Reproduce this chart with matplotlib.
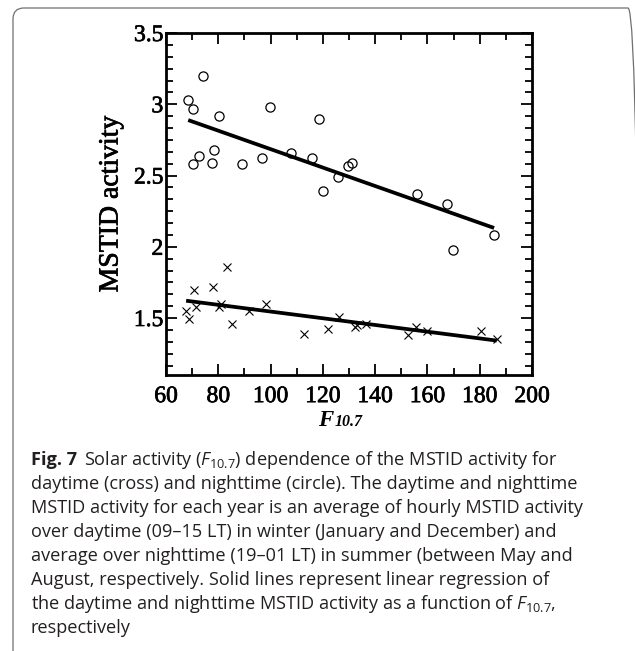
# MSTID activity vs F10.7 (daytime crosses, nighttime circles) with regression lines

import numpy as np
import matplotlib
matplotlib.use("Agg")
import matplotlib.pyplot as plt
import matplotlib.patheffects as pe
from matplotlib.ticker import AutoMinorLocator, FuncFormatter
from matplotlib.patches import FancyBboxPatch

# nighttime (summer) - circles
f107_night = [68.5, 70.2, 70.4, 72.6, 74.3, 77.6, 78.5, 80.2, 89.1, 96.7, 99.7,
              107.9, 116.0, 118.6, 119.9, 125.8, 129.5, 131.3, 156.1, 167.5,
              169.9, 185.5]
night_activity = [3.03, 2.58, 2.97, 2.64, 3.20, 2.59, 2.68, 2.92, 2.58, 2.62,
                  2.98, 2.66, 2.62, 2.90, 2.39, 2.49, 2.57, 2.59, 2.37, 2.30,
                  1.98, 2.08]

# daytime (winter) - crosses
f107_day = [67.7, 68.9, 70.9, 71.5, 77.9, 80.1, 81.2, 83.2, 85.1, 91.6, 98.4,
            112.7, 121.8, 126.0, 132.4, 133.2, 136.4, 152.7, 155.7, 159.9,
            180.5, 186.5]
day_activity = [1.55, 1.49, 1.70, 1.58, 1.72, 1.58, 1.60, 1.86, 1.46, 1.55,
                1.60, 1.39, 1.42, 1.51, 1.44, 1.45, 1.46, 1.38, 1.44, 1.41,
                1.41, 1.35]

x_ticks = [60, 80, 100, 120, 140, 160, 180, 200]
y_ticks = [1.5, 2, 2.5, 3, 3.5]

caption_first = "Solar activity ($F_{\\mathrm{10.7}}$) dependence of the MSTID activity for"
caption_lines = [
    "daytime (cross) and nighttime (circle). The daytime and nighttime",
    "MSTID activity for each year is an average of hourly MSTID activity",
    "over daytime (09\u201315 LT) in winter (January and December) and",
    "average over nighttime (19\u201301 LT) in summer (between May and",
    "August, respectively. Solid lines represent linear regression of",
    "the daytime and nighttime MSTID activity as a function of $F_{\\mathrm{10.7}}$,",
    "respectively",
]

plt.rcParams['mathtext.fontset'] = 'custom'
plt.rcParams['mathtext.rm'] = 'Open Sans'
plt.rcParams['mathtext.it'] = 'Open Sans:italic'

W, H = 635, 651
fig = plt.figure(figsize=(W / 100, H / 100), dpi=100)


def px(x, y):
    # pixel position from the top-left corner -> inches for dpi_scale_trans
    return x / 100, (H - y) / 100


# outer frame (rounded box, cut off at the right and bottom)
frame = FancyBboxPatch(px(13, 665), (639 - 13) / 100, (665 - 8) / 100,
                       boxstyle="round,pad=0,rounding_size=0.11",
                       transform=fig.dpi_scale_trans, fill=False,
                       edgecolor="#707070", linewidth=0.9)
fig.patches.append(frame)

ax = fig.add_axes([166 / W, 1 - 375 / H, (532 - 166) / W, (375 - 33) / H])

ax.plot(f107_night, night_activity, 'o', ms=6.6, mfc='none', mec='black', mew=0.9)
ax.plot(f107_day, day_activity, 'x', ms=6, color='black', mew=0.8)

for fx, fy in [(f107_night, night_activity), (f107_day, day_activity)]:
    slope, icept = np.polyfit(fx, fy, 1)
    xs = np.array([min(fx), max(fx)])
    ax.plot(xs, slope * xs + icept, color='black', lw=2.7, solid_capstyle='butt')

ax.set_xlim(60, 200)
ax.set_ylim(1.1, 3.5)
ax.set_xticks(x_ticks)
ax.set_yticks(y_ticks)
ax.xaxis.set_minor_locator(AutoMinorLocator(2))
ax.yaxis.set_minor_locator(AutoMinorLocator(6))
ax.yaxis.set_major_formatter(FuncFormatter(lambda v, p: "%g" % v))

for s in ax.spines.values():
    s.set_linewidth(2.0)
ax.tick_params(which='both', direction='in', top=True, right=True, width=1.3)
ax.tick_params(which='major', length=8)
ax.tick_params(which='minor', length=5)
ax.tick_params(axis='x', pad=8)
ax.tick_params(axis='y', pad=2)
heavy = [pe.withStroke(linewidth=0.5, foreground='black')]
for lab in ax.get_xticklabels() + ax.get_yticklabels():
    lab.set_fontfamily('Liberation Serif')
    lab.set_fontsize(17)
    lab.set_path_effects(heavy)

ax.set_ylabel("MSTID activity", fontfamily='Liberation Serif', fontsize=20)
ax.yaxis.set_label_coords((111 - 166) / 366, 0.5)
ax.yaxis.label.set_va('center')
ax.yaxis.label.set_path_effects(heavy)

# x label: F with subscript 10.7, serif bold italic
f_txt = fig.text(*px(318, 426), "F", transform=fig.dpi_scale_trans,
                 fontfamily='Liberation Serif', fontweight='bold', fontstyle='italic',
                 fontsize=16.5, va='baseline', ha='left')
ax.annotate("10.7", xy=(1, (H - 426) / 100), xycoords=(f_txt, fig.dpi_scale_trans),
            xytext=(1, 0), textcoords='offset points',
            fontfamily='Liberation Serif', fontweight='bold', fontstyle='italic',
            fontsize=11.5, va='baseline', ha='left', annotation_clip=False)

# caption
cap_color = "#231f20"
cap_size = 13.1
gap = 24
base0 = 465
fig_lbl = fig.text(*px(31, base0), "Fig. 7", transform=fig.dpi_scale_trans,
                   fontfamily='Open Sans', fontweight='bold', fontsize=cap_size,
                   color=cap_color, va='baseline', ha='left')
ax.annotate(caption_first, xy=(1, (H - base0) / 100),
            xycoords=(fig_lbl, fig.dpi_scale_trans),
            xytext=(5, 0), textcoords='offset points',
            fontfamily='Open Sans', fontsize=cap_size, color=cap_color,
            va='baseline', ha='left', annotation_clip=False)
for i, line in enumerate(caption_lines):
    fig.text(*px(31, base0 + (i + 1) * gap), line, transform=fig.dpi_scale_trans,
             fontfamily='Open Sans', fontsize=cap_size, color=cap_color,
             va='baseline', ha='left')

fig.savefig("out.png", dpi=100)
